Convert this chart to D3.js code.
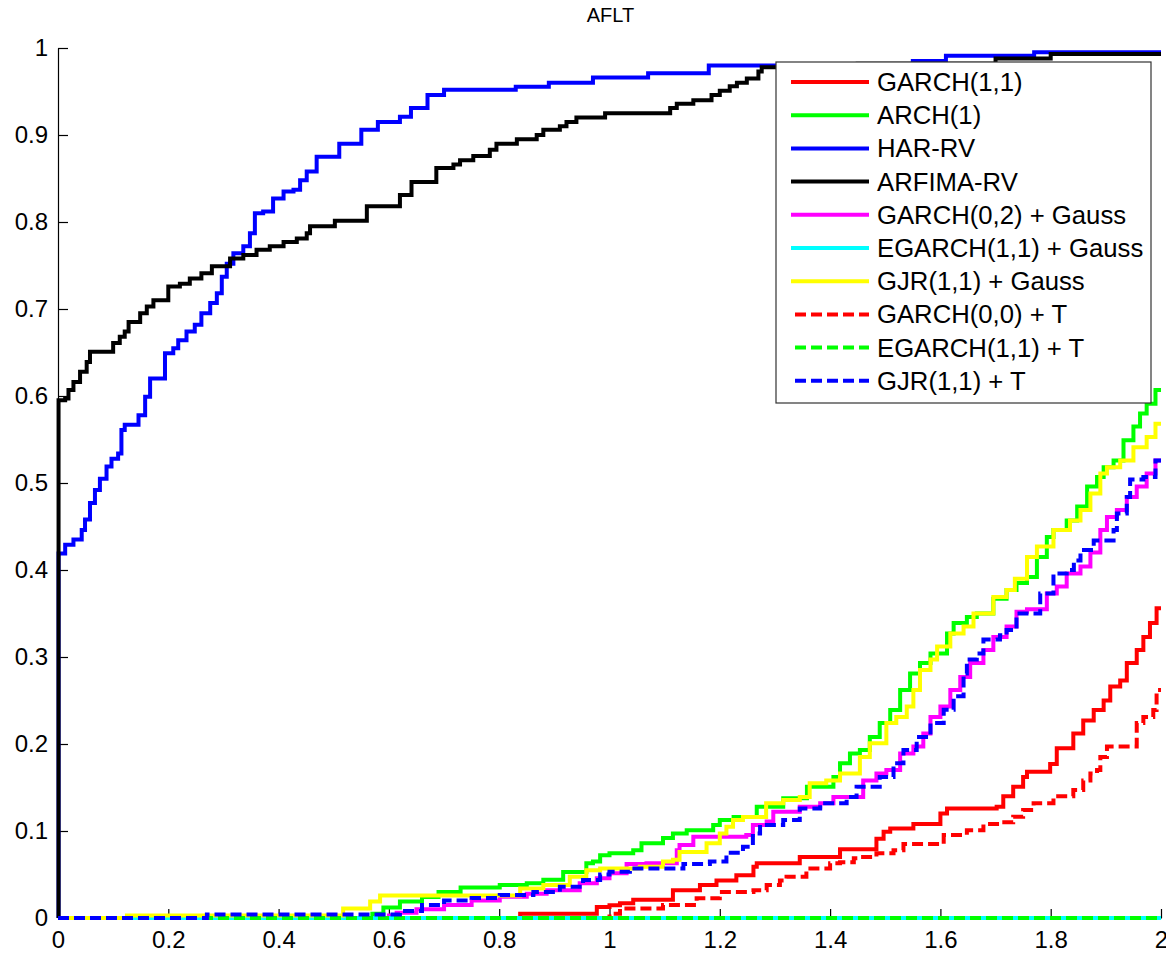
<!DOCTYPE html>
<html>
<head>
<meta charset="utf-8">
<script src="https://cdn.jsdelivr.net/npm/d3@7"></script>
<style>
  html, body { margin: 0; padding: 0; background: #fff; }
  svg { display: block; font-family: Arial, "Liberation Sans", sans-serif; }
</style>
</head>
<body>
<svg id="chart" width="1166" height="953"></svg>
<script>
// ---------- data ----------
const title = "AFLT";
const xTicks = [0, 0.2, 0.4, 0.6, 0.8, 1, 1.2, 1.4, 1.6, 1.8, 2];
const yTicks = [0, 0.1, 0.2, 0.3, 0.4, 0.5, 0.6, 0.7, 0.8, 0.9, 1];

const seriesNames = ["GARCH(1,1)", "ARCH(1)", "HAR-RV", "ARFIMA-RV", "GARCH(0,2) + Gauss",
  "EGARCH(1,1) + Gauss", "GJR(1,1) + Gauss", "GARCH(0,0) + T", "EGARCH(1,1) + T", "GJR(1,1) + T"];
const seriesColors = ["#ff0000", "#00ff00", "#0000ff", "#000000", "#ff00ff",
  "#00ffff", "#ffff00", "#ff0000", "#00ff00", "#0000ff"];
const seriesDashed = [false, false, false, false, false, false, false, true, true, true];

const garch11 = [[0,0],[0.838,0.005],[0.977,0.0126],[1.0,0.0146],[1.019,0.017],[1.043,0.021],[1.115,0.032],[1.164,0.038],[1.194,0.043],[1.23,0.049],[1.261,0.059],[1.267,0.063],[1.345,0.07],[1.418,0.079],[1.484,0.091],[1.497,0.099],[1.509,0.103],[1.551,0.108],[1.6,0.12],[1.612,0.126],[1.702,0.128],[1.714,0.14],[1.732,0.151],[1.75,0.162],[1.757,0.168],[1.799,0.177],[1.811,0.195],[1.841,0.212],[1.859,0.227],[1.878,0.239],[1.896,0.25],[1.908,0.266],[1.926,0.273],[1.938,0.293],[1.956,0.308],[1.968,0.323],[1.98,0.339],[1.992,0.356],[2,0.356]];

const arch1 = [[0,0],[0.57,0.005],[0.59,0.012],[0.62,0.019],[0.66,0.024],[0.69,0.03],[0.73,0.035],[0.801,0.038],[0.85,0.04],[0.88,0.044],[0.916,0.053],[0.958,0.063],[0.97,0.065],[0.983,0.072],[1.0,0.0743],[1.043,0.078],[1.058,0.086],[1.097,0.092],[1.115,0.097],[1.14,0.101],[1.188,0.107],[1.2,0.1126],[1.225,0.116],[1.267,0.128],[1.315,0.1376],[1.358,0.151],[1.406,0.162],[1.418,0.178],[1.436,0.189],[1.454,0.193],[1.472,0.208],[1.49,0.224],[1.509,0.239],[1.527,0.262],[1.545,0.281],[1.563,0.293],[1.582,0.304],[1.612,0.327],[1.624,0.339],[1.648,0.346],[1.666,0.35],[1.696,0.367],[1.72,0.377],[1.738,0.385],[1.757,0.392],[1.775,0.415],[1.793,0.438],[1.805,0.446],[1.829,0.457],[1.848,0.473],[1.866,0.496],[1.884,0.507],[1.896,0.518],[1.914,0.526],[1.932,0.549],[1.95,0.565],[1.962,0.58],[1.974,0.591],[1.99,0.607],[2,0.607]];

const harRV = [[0,0],[0.001,0.419],[0.013,0.429],[0.028,0.435],[0.043,0.446],[0.049,0.458],[0.058,0.477],[0.067,0.492],[0.076,0.505],[0.088,0.519],[0.097,0.528],[0.109,0.534],[0.115,0.561],[0.121,0.567],[0.146,0.578],[0.158,0.599],[0.167,0.620],[0.194,0.649],[0.209,0.655],[0.218,0.664],[0.233,0.674],[0.248,0.682],[0.26,0.695],[0.276,0.707],[0.288,0.718],[0.297,0.737],[0.306,0.752],[0.318,0.764],[0.336,0.772],[0.348,0.787],[0.357,0.810],[0.372,0.812],[0.39,0.827],[0.409,0.835],[0.427,0.837],[0.439,0.848],[0.451,0.858],[0.469,0.875],[0.51,0.89],[0.55,0.906],[0.58,0.915],[0.62,0.921],[0.64,0.931],[0.67,0.946],[0.70,0.952],[0.83,0.9555],[0.89,0.960],[0.97,0.966],[1.07,0.971],[1.18,0.98],[1.55,0.985],[1.61,0.991],[1.77,0.995],[2,0.995]];

const arfimaRV = [[0,0],[0.001,0.595],[0.013,0.597],[0.019,0.607],[0.028,0.616],[0.04,0.628],[0.052,0.639],[0.058,0.651],[0.1,0.661],[0.112,0.668],[0.121,0.674],[0.128,0.685],[0.149,0.695],[0.161,0.703],[0.173,0.710],[0.2,0.726],[0.221,0.729],[0.239,0.735],[0.26,0.741],[0.279,0.749],[0.312,0.758],[0.336,0.762],[0.36,0.768],[0.384,0.772],[0.409,0.777],[0.433,0.781],[0.451,0.787],[0.457,0.795],[0.502,0.8015],[0.56,0.818],[0.62,0.831],[0.641,0.846],[0.686,0.862],[0.717,0.866],[0.729,0.871],[0.753,0.876],[0.783,0.883],[0.795,0.890],[0.832,0.895],[0.868,0.9],[0.88,0.906],[0.91,0.910],[0.922,0.915],[0.94,0.920],[0.992,0.925],[1.11,0.931],[1.122,0.936],[1.152,0.940],[1.185,0.946],[1.2,0.951],[1.218,0.956],[1.231,0.960],[1.249,0.965],[1.27,0.973],[1.276,0.978],[1.45,0.982],[1.70,0.988],[1.80,0.993],[2,0.993]];

const garch02Gauss = [[0,0],[0.60,0.003],[0.614,0.006],[0.65,0.01],[0.70,0.015],[0.75,0.02],[0.801,0.0245],[0.85,0.028],[0.886,0.032],[0.946,0.04],[0.977,0.0456],[1.0,0.0513],[1.031,0.062],[1.067,0.063],[1.122,0.078],[1.127,0.084],[1.152,0.0935],[1.248,0.0955],[1.26,0.107],[1.285,0.111],[1.297,0.122],[1.345,0.128],[1.382,0.132],[1.406,0.139],[1.46,0.158],[1.484,0.166],[1.502,0.17],[1.527,0.189],[1.551,0.197],[1.569,0.212],[1.582,0.231],[1.6,0.243],[1.618,0.262],[1.636,0.277],[1.654,0.293],[1.678,0.308],[1.696,0.323],[1.72,0.335],[1.738,0.352],[1.757,0.355],[1.793,0.373],[1.811,0.381],[1.829,0.396],[1.854,0.404],[1.872,0.42],[1.89,0.446],[1.902,0.461],[1.92,0.469],[1.938,0.484],[1.956,0.496],[1.974,0.511],[1.99,0.526],[2,0.526]];

const egarch11Gauss = [[0,0],[2,0]];

const gjr11Gauss = [[0,0],[0.125,0.003],[0.517,0.011],[0.566,0.019],[0.584,0.026],[0.838,0.034],[0.88,0.038],[0.928,0.0475],[0.958,0.055],[0.983,0.057],[1.055,0.059],[1.097,0.065],[1.115,0.067],[1.127,0.076],[1.176,0.086],[1.2,0.097],[1.212,0.105],[1.224,0.1126],[1.242,0.116],[1.284,0.132],[1.315,0.1356],[1.345,0.139],[1.363,0.155],[1.393,0.158],[1.418,0.166],[1.454,0.185],[1.472,0.201],[1.502,0.224],[1.52,0.231],[1.539,0.243],[1.551,0.262],[1.563,0.285],[1.582,0.297],[1.594,0.312],[1.618,0.327],[1.642,0.335],[1.66,0.35],[1.696,0.369],[1.72,0.377],[1.735,0.39],[1.757,0.415],[1.775,0.427],[1.805,0.446],[1.835,0.457],[1.854,0.469],[1.872,0.488],[1.89,0.511],[1.902,0.518],[1.926,0.526],[1.95,0.541],[1.974,0.553],[1.99,0.568],[2,0.568]];

const garch00T = [[0,0],[1.0,0.005],[1.019,0.011],[1.097,0.015],[1.158,0.0226],[1.2,0.030],[1.261,0.032],[1.285,0.038],[1.309,0.043],[1.321,0.0475],[1.357,0.057],[1.4,0.0628],[1.418,0.064],[1.443,0.0686],[1.454,0.07],[1.484,0.0743],[1.515,0.078],[1.533,0.085],[1.606,0.0954],[1.648,0.101],[1.678,0.108],[1.708,0.11],[1.732,0.1165],[1.75,0.124],[1.769,0.132],[1.805,0.14],[1.841,0.147],[1.859,0.158],[1.872,0.166],[1.884,0.17],[1.89,0.185],[1.902,0.197],[1.956,0.224],[1.968,0.231],[1.986,0.239],[1.992,0.262],[2,0.262]];

const egarch11T = [[0,0],[2,0]];

const gjr11T = [[0,0],[0.27,0.004],[0.62,0.008],[0.66,0.015],[0.70,0.02],[0.75,0.023],[0.801,0.0264],[0.862,0.03],[0.91,0.036],[0.952,0.0437],[0.983,0.05],[1.0,0.0533],[1.037,0.057],[1.134,0.062],[1.182,0.065],[1.212,0.075],[1.242,0.082],[1.26,0.097],[1.273,0.107],[1.315,0.1126],[1.345,0.126],[1.382,0.132],[1.43,0.139],[1.448,0.151],[1.49,0.162],[1.515,0.178],[1.533,0.193],[1.557,0.208],[1.582,0.224],[1.606,0.2395],[1.624,0.255],[1.642,0.281],[1.648,0.297],[1.666,0.304],[1.678,0.32],[1.708,0.325],[1.72,0.331],[1.738,0.35],[1.781,0.373],[1.805,0.396],[1.829,0.4],[1.842,0.411],[1.854,0.423],[1.878,0.434],[1.914,0.446],[1.92,0.465],[1.938,0.484],[1.944,0.504],[1.968,0.507],[1.99,0.526],[2,0.526]];

const seriesData = [garch11, arch1, harRV, arfimaRV, garch02Gauss, egarch11Gauss, gjr11Gauss, garch00T, egarch11T, gjr11T];

// ---------- layout ----------
const svg = d3.select("#chart");
const plot = { left: 58, right: 1161, top: 48, bottom: 918 };

const x = d3.scaleLinear().domain([0, 2]).range([plot.left, plot.right]);
const y = d3.scaleLinear().domain([0, 1]).range([plot.bottom, plot.top]);

const fmt = d => (d === 0 ? "0" : d3.format("~g")(d));

// axes
const xAxis = d3.axisBottom(x).tickValues(xTicks).tickSizeInner(-9).tickSizeOuter(0).tickPadding(13).tickFormat(fmt);
const yAxis = d3.axisLeft(y).tickValues(yTicks).tickSizeInner(-10).tickSizeOuter(0).tickPadding(10).tickFormat(fmt);

const gx = svg.append("g").attr("transform", `translate(0,${plot.bottom})`).call(xAxis);
const gy = svg.append("g").attr("transform", `translate(${plot.left},0)`).call(yAxis);
[gx, gy].forEach(g => {
  g.selectAll("path").attr("stroke", "#000").attr("stroke-width", 1.2);
  g.selectAll("line").attr("stroke", "#000").attr("stroke-width", 1.2);
  g.selectAll("text").attr("fill", "#000").style("font-size", "24px")
   .style("font-family", "Arial, 'Liberation Sans', sans-serif");
});

// title
svg.append("text").attr("x", (plot.left + plot.right) / 2 + 1).attr("y", 22)
  .attr("text-anchor", "middle").style("font-size", "20px").attr("fill", "#000").text(title);

// lines
const line = d3.line().x(d => x(d[0])).y(d => y(d[1])).curve(d3.curveStepAfter);
const linesG = svg.append("g");
seriesData.forEach((data, i) => {
  linesG.append("path")
    .datum(data)
    .attr("d", line)
    .attr("fill", "none")
    .attr("stroke", seriesColors[i])
    .attr("stroke-width", 4)
    .attr("stroke-linejoin", "miter")
    .attr("stroke-dasharray", seriesDashed[i] ? "11,5" : null);
});

// legend
const legend = { x0: 776, y0: 62, x1: 1151, y1: 403, firstY: 82, step: 33.2 };
const lg = svg.append("g");
lg.append("rect")
  .attr("x", legend.x0).attr("y", legend.y0)
  .attr("width", legend.x1 - legend.x0).attr("height", legend.y1 - legend.y0)
  .attr("fill", "#fff").attr("stroke", "#333").attr("stroke-width", 1.2);
seriesNames.forEach((name, i) => {
  const yy = legend.firstY + i * legend.step;
  lg.append("line")
    .attr("x1", seriesDashed[i] ? 795 : 791).attr("x2", 869)
    .attr("y1", yy).attr("y2", yy)
    .attr("stroke", seriesColors[i]).attr("stroke-width", 4)
    .attr("stroke-dasharray", seriesDashed[i] ? "11,5" : null);
  lg.append("text")
    .attr("x", 877).attr("y", yy + 9)
    .style("font-size", "25.7px").attr("fill", "#000")
    .text(name);
});
</script>
</body>
</html>
